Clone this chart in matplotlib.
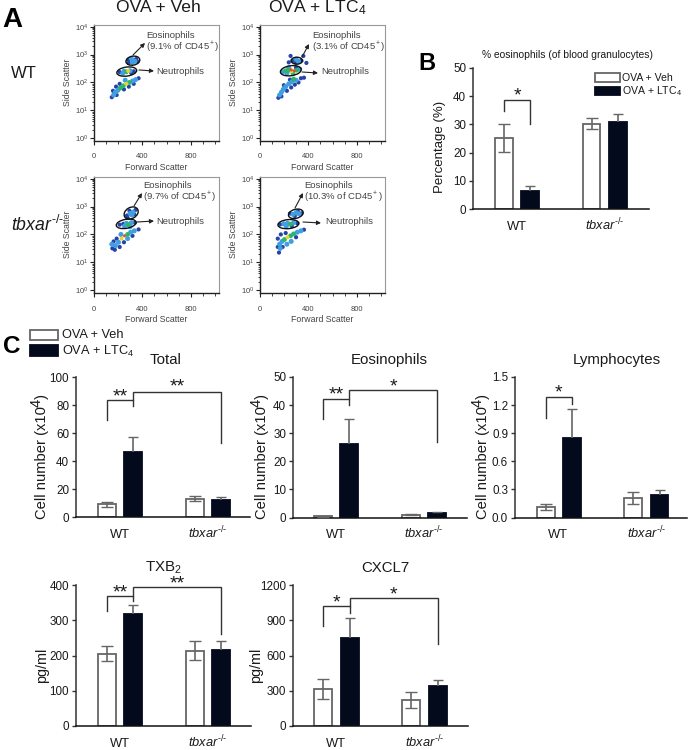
import numpy as np
import matplotlib
matplotlib.use('Agg')
import matplotlib.pyplot as plt
from matplotlib.patches import Ellipse, Rectangle
from matplotlib.transforms import ScaledTranslation

plt.rcParams['font.family'] = ['Liberation Sans', 'DejaVu Sans']
plt.rcParams['mathtext.fontset'] = 'custom'
plt.rcParams['mathtext.rm'] = 'Liberation Sans'
plt.rcParams['mathtext.it'] = 'Liberation Sans:italic'
plt.rcParams['mathtext.default'] = 'regular'

W, H = 692, 750
KO = r'$\mathit{tbxar}^{\text{-/-}}$'
LTC = 'OVA + LTC$_4$'
VEH = 'OVA + Veh'

# flow panels: forward scatter, log10 side scatter, density level
wt_veh_fsc = [285, 320, 350, 310, 340, 290, 325, 360, 215, 250, 300, 330, 270, 285, 240, 310,
              150, 165, 180, 200, 220, 245, 270, 295, 320, 345, 370, 190, 160, 215, 250, 290, 330, 260, 185]
wt_veh_ssc = [2.80, 2.72, 2.84, 2.86, 2.76, 2.70, 2.78, 2.75, 2.37, 2.40, 2.42, 2.40, 2.38, 2.41, 2.33, 2.34,
              1.47, 1.55, 1.65, 1.72, 1.80, 1.88, 1.95, 2.00, 2.05, 2.10, 2.15, 1.55, 1.70, 1.95, 1.75, 1.85, 1.95, 2.08, 1.85]
wt_veh_lvl = [0, 1, 0, 1, 1, 0, 1, 0, 0, 1, 1, 0, 2, 3, 1, 0,
              0, 1, 1, 1, 2, 2, 3, 2, 1, 1, 0, 0, 0, 0, 0, 0, 0, 1, 0]

wt_ltc_fsc = [270, 300, 320, 345, 295, 255, 360, 240, 385, 190, 215, 240, 265, 285, 260, 305, 330, 225, 275, 240, 300,
              155, 165, 180, 195, 215, 240, 265, 300, 340, 365, 180, 225, 260, 290, 200, 320, 280, 250]
wt_ltc_ssc = [2.78, 2.83, 2.75, 2.78, 2.72, 2.95, 2.95, 2.72, 2.70, 2.38, 2.42, 2.44, 2.40, 2.42, 2.45, 2.44, 2.48, 2.33, 2.32, 2.52, 2.53,
              1.45, 1.55, 1.65, 1.75, 1.85, 1.95, 2.02, 2.08, 2.15, 2.17, 1.50, 1.70, 1.82, 1.92, 1.90, 2.00, 2.12, 2.10]
wt_ltc_lvl = [0, 1, 1, 0, 0, 0, 0, 0, 0, 1, 2, 2, 3, 4, 4, 2, 1, 1, 2, 1, 0,
              0, 1, 1, 1, 1, 1, 1, 1, 0, 0, 0, 0, 0, 0, 0, 0, 2, 0]

ko_veh_fsc = [275, 300, 325, 345, 315, 295, 335, 280, 215, 245, 270, 285, 310, 340, 255, 300,
              155, 180, 205, 230, 255, 280, 305, 335, 370, 165, 190, 150, 215, 250, 280, 320, 225, 175]
ko_veh_ssc = [2.68, 2.75, 2.80, 2.88, 2.70, 2.85, 2.72, 2.60, 2.35, 2.38, 2.40, 2.35, 2.42, 2.42, 2.30, 2.28,
              1.50, 1.60, 1.72, 1.85, 1.95, 2.00, 2.08, 2.13, 2.18, 1.75, 1.85, 1.65, 1.55, 1.72, 1.85, 1.95, 2.00, 1.45]
ko_veh_lvl = [0, 1, 1, 0, 1, 0, 0, 0, 0, 0, 1, 2, 1, 0, 1, 1,
              0, 1, 1, 3, 4, 2, 1, 1, 0, 0, 0, 1, 0, 0, 1, 0, 1, 0]

ko_ltc_fsc = [250, 275, 300, 325, 345, 290, 315, 170, 200, 230, 255, 280, 310, 220, 265,
              160, 170, 165, 185, 205, 230, 255, 280, 310, 340, 365, 150, 190, 225, 260, 300, 175, 215, 150]
ko_ltc_ssc = [2.75, 2.72, 2.78, 2.74, 2.76, 2.66, 2.83, 2.36, 2.38, 2.40, 2.37, 2.42, 2.40, 2.30, 2.30,
              1.35, 1.50, 1.65, 1.75, 1.82, 1.90, 1.95, 2.02, 2.08, 2.13, 2.17, 1.85, 1.55, 1.65, 1.75, 1.90, 2.00, 2.05, 1.55]
ko_ltc_lvl = [0, 1, 1, 1, 0, 0, 0, 0, 1, 1, 2, 1, 0, 1, 0,
              0, 1, 1, 1, 2, 3, 2, 2, 1, 1, 0, 0, 0, 1, 1, 0, 0, 0, 0]

# gates: fsc, log10 ssc, width px, height px, angle
wt_veh_gates = [(323, 2.78, 14, 9, 10), (273, 2.39, 20, 9, 8)]
wt_ltc_gates = [(306, 2.78, 11, 7, 0), (257, 2.42, 21, 10, 8)]
ko_veh_gates = [(309, 2.77, 15, 11, 30), (268, 2.38, 20, 9, 10)]
ko_ltc_gates = [(298, 2.74, 15, 9, 15), (237, 2.37, 21, 9, 5)]

eos_pct = ['(9.1% of CD45$^+$)', '(3.1% of CD45$^+$)', '(9.7% of CD45$^+$)', '(10.3% of CD45$^+$)']

# bar data: mean, upper error end, lower error end (white bars only)
pct_mean = [25.3, 6.3, 30.3, 30.7]
pct_hi = [30.3, 8.0, 32.2, 33.6]
pct_lo = [20.2, 6.3, 28.3, 30.7]

total_mean = [9, 46.5, 13, 12.5]
total_hi = [10.5, 57.5, 15, 14]
total_lo = [7, 46.5, 11.5, 12.5]

eos_mean = [0.4, 26, 1, 1.7]
eos_hi = [0.5, 35.2, 1.2, 2.0]
eos_lo = [0.3, 26, 0.8, 1.7]

lym_mean = [0.11, 0.85, 0.21, 0.24]
lym_hi = [0.14, 1.16, 0.27, 0.29]
lym_lo = [0.08, 0.85, 0.14, 0.24]

txb_mean = [205, 317, 214, 217]
txb_hi = [228, 343, 240, 241]
txb_lo = [185, 317, 188, 217]

cxcl_mean = [317, 750, 220, 340]
cxcl_hi = [397, 920, 293, 392]
cxcl_lo = [230, 750, 150, 340]

bar_x = np.array([0, 1, 3.35, 4.35])
density_colors = ['#2544a8', '#3f9fe0', '#2fb56a', '#e6d52a', '#e8502a']
density_sizes = [9, 13, 12, 8, 5]

fig = plt.figure(figsize=(W / 100, H / 100), dpi=100)


def px_x(x):
    return x / W


def px_y(y):
    return 1 - y / H


def make_axes(left, top, right, bottom):
    return fig.add_axes([px_x(left), px_y(bottom), (right - left) / W, (bottom - top) / H])


def label(x, y, s, **kw):
    kw.setdefault('ha', 'left')
    kw.setdefault('va', 'center')
    kw.setdefault('color', '#1a1a1a')
    fig.text(px_x(x), px_y(y), s, **kw)


def flow_panel(left, top, fsc, ssc, lvl, gates):
    ax = make_axes(left, top, left + 125, top + 116)
    ax.set_xlim(0, 1026)
    ax.set_ylim(-0.1, 4.06)
    order = np.argsort(lvl)
    ax.scatter(np.array(fsc)[order], np.array(ssc)[order],
               s=[density_sizes[lvl[i]] for i in order],
               c=[density_colors[lvl[i]] for i in order], marker='o', linewidths=0, zorder=2)
    for gx, gy, gw, gh, ang in gates:
        tr = fig.dpi_scale_trans + ScaledTranslation(gx, gy, ax.transData)
        ax.add_patch(Ellipse((0, 0), gw / 100, gh / 100, angle=ang, transform=tr,
                             fill=False, ec='#111111', lw=1.0, zorder=3))
    for s in ['top', 'right']:
        ax.spines[s].set_color('#999999')
        ax.spines[s].set_linewidth(0.8)
    for s in ['left', 'bottom']:
        ax.spines[s].set_color('#222222')
        ax.spines[s].set_linewidth(1.0)
    ax.set_xticks([0, 400, 800])
    ax.set_xticklabels(['0', '400', '800'], fontsize=5.5, color='#444444')
    ax.set_xticks(np.arange(100, 1026, 100), minor=True)
    ax.set_yticks(range(5))
    ax.set_yticklabels(['$10^{%d}$' % i for i in range(5)], fontsize=5.5, color='#444444')
    ax.set_yticks([d + np.log10(m) for d in range(4) for m in range(2, 10)], minor=True)
    ax.tick_params(axis='both', which='major', length=3, width=0.8, color='#222222')
    ax.tick_params(axis='both', which='minor', length=1.8, width=0.6, color='#222222')
    ax.tick_params(axis='x', pad=6)
    ax.tick_params(axis='y', pad=1)
    label(left + 63, top + 142, 'Forward Scatter', ha='center', fontsize=6.3, color='#444444')
    label(left - 26, top + 57, 'Side Scatter', ha='center', rotation=90, fontsize=6.3, color='#444444')
    return ax


def flow_text(x_eos, y_eos, pct, eos_arrow, x_neu, y_neu, neu_arrow):
    label(x_eos, y_eos, 'Eosinophils', fontsize=6.8, color='#444444')
    label(x_eos, y_eos + 11, pct, fontsize=6.8, color='#444444')
    label(x_neu, y_neu, 'Neutrophils', fontsize=6.8, color='#444444')
    for (x0, y0, x1, y1) in [eos_arrow, neu_arrow]:
        fig.add_artist(matplotlib.patches.FancyArrowPatch(
            (px_x(x0), px_y(y0)), (px_x(x1), px_y(y1)), transform=fig.transFigure,
            arrowstyle='-|>', mutation_scale=6, lw=0.8, color='#222222', shrinkA=0, shrinkB=0))


def bar_panel(left, top, right, bottom, mean, hi, lo, ymax, yticks, ticklabels, left_pad, span):
    ax = make_axes(left, top, right, bottom)
    ax.set_xlim(left_pad, span)
    ax.set_ylim(0, ymax)
    ax.bar(bar_x, mean, width=0.68, color=['white', '#030a1c', 'white', '#030a1c'],
           edgecolor=['#666666', '#030a1c', '#666666', '#030a1c'], linewidth=1.3, zorder=2)
    for i in range(4):
        _, caps, bars = ax.errorbar(bar_x[i], mean[i],
                                    yerr=[[mean[i] - lo[i]], [hi[i] - mean[i]]],
                                    ecolor='#666666', elinewidth=1.2,
                                    capsize=4 if i % 2 == 0 else 3.4, capthick=1.0, zorder=3,
                                    fmt='none')
        for c in caps:
            c.set_color('#111111')
        if lo[i] == mean[i]:
            caps[0].set_visible(False)
    for s in ['top', 'right']:
        ax.spines[s].set_visible(False)
    ax.spines['left'].set_color('#333333')
    ax.spines['bottom'].set_color('#111111')
    ax.spines['left'].set_linewidth(1.1)
    ax.spines['bottom'].set_linewidth(1.1)
    ax.set_yticks(yticks)
    ax.set_yticklabels(ticklabels, fontsize=8.4, color='#1a1a1a')
    ax.set_xticks([0.48, 3.85])
    ax.set_xticklabels(['WT', KO], fontsize=9.3, color='#1a1a1a', va='baseline')
    ax.tick_params(axis='x', length=0, pad=15)
    ax.tick_params(axis='y', length=3, width=1, pad=2, color='#333333')
    return ax


def bracket(ax, a, b, top, left_end, right_end, stars, star_y):
    ax.plot([bar_x[a], bar_x[a], bar_x[b], bar_x[b]], [left_end, top, top, right_end],
            color='#333333', lw=1.0, solid_joinstyle='miter', zorder=4, clip_on=False)
    ax.text((bar_x[a] + bar_x[b]) / 2, star_y, stars, ha='center', va='center',
            fontsize=14, color='#1a1a1a', clip_on=False)


# panel A
flow_panel(93.5, 25, wt_veh_fsc, wt_veh_ssc, wt_veh_lvl, wt_veh_gates)
flow_panel(259.5, 25, wt_ltc_fsc, wt_ltc_ssc, wt_ltc_lvl, wt_ltc_gates)
flow_panel(93.5, 177, ko_veh_fsc, ko_veh_ssc, ko_veh_lvl, ko_veh_gates)
flow_panel(259.5, 177, ko_ltc_fsc, ko_ltc_ssc, ko_ltc_lvl, ko_ltc_gates)

flow_text(146, 36, eos_pct[0], (133, 55, 145, 43), 156, 72, (139, 70, 154, 71))
flow_text(312, 36, eos_pct[1], (302, 57, 309, 44), 321, 72, (302, 72, 318, 73))
flow_text(143, 186, eos_pct[2], (134, 206, 142, 193), 156, 222, (137, 222, 154, 221))
flow_text(304, 186, eos_pct[3], (295, 208, 303, 193), 325, 222, (303, 222, 321, 223))

label(158, 8, VEH, ha='center', fontsize=12.6)
label(317, 8, LTC, ha='center', fontsize=12.6)
label(11, 73, 'WT', fontsize=12)
label(11, 225, KO, fontsize=12.7)

label(2, 20, 'A', fontsize=20, fontweight='bold', color='black')
label(418, 64, 'B', fontsize=17, fontweight='bold', color='black')
label(3, 346, 'C', fontsize=17.5, fontweight='bold', color='black')

# panel B
ax_b = bar_panel(473, 68, 649, 209, pct_mean, pct_hi, pct_lo, 50, [0, 10, 20, 30, 40, 50],
                 ['0', '10', '20', '30', '40', '50'], -1.19, 5.55)
bracket(ax_b, 0, 1, 38.6, 34.6, 30, '*', 40.2)
label(567, 55, '% eosinophils (of blood granulocytes)', ha='center', fontsize=7.4)
label(440, 147, 'Percentage (%)', ha='center', rotation=90, fontsize=9.5)

# panel C
ax_total = bar_panel(76, 377, 250, 517, total_mean, total_hi, total_lo, 100, [0, 20, 40, 60, 80, 100],
                     ['0', '20', '40', '60', '80', '100'], -1.18, 5.46)
bracket(ax_total, 0, 1, 83.4, 69, 79.6, '**', 86)
bracket(ax_total, 1, 3, 89.6, 83.4, 52.6, '**', 93)

ax_eos = bar_panel(293, 377, 467, 517.5, eos_mean, eos_hi, eos_lo, 50, [0, 10, 20, 30, 40, 50],
                   ['0', '10', '20', '30', '40', '50'], -1.15, 5.5)
bracket(ax_eos, 0, 1, 42.3, 35.2, 40, '**', 43.5)
bracket(ax_eos, 1, 3, 45.5, 42.3, 27, '*', 46.5)

ax_lym = bar_panel(515, 377, 687, 517.5, lym_mean, lym_hi, lym_lo, 1.5, [0, 0.3, 0.6, 0.9, 1.2, 1.5],
                   ['0.0', '0.3', '0.6', '0.9', '1.2', '1.5'], -1.17, 5.4)
bracket(ax_lym, 0, 1, 1.287, 1.064, 1.216, '*', 1.33)

ax_txb = bar_panel(76, 585, 251, 726, txb_mean, txb_hi, txb_lo, 400, [0, 100, 200, 300, 400],
                   ['0', '100', '200', '300', '400'], -1.18, 5.5)
bracket(ax_txb, 0, 1, 369, 327, 354, '**', 378)
bracket(ax_txb, 1, 3, 393, 369, 261, '**', 402)

ax_cxcl = bar_panel(293, 585, 468, 726, cxcl_mean, cxcl_hi, cxcl_lo, 1200, [0, 300, 600, 900, 1200],
                    ['0', '300', '600', '900', '1200'], -1.15, 5.5)
bracket(ax_cxcl, 0, 1, 1018, 848, 962, '*', 1045)
bracket(ax_cxcl, 1, 3, 1092, 1018, 698, '*', 1118)

label(166, 360, 'Total', ha='center', fontsize=10.8)
label(389, 360, 'Eosinophils', ha='center', fontsize=10.8)
label(617, 360, 'Lymphocytes', ha='center', fontsize=10.8)
label(163, 568, 'TXB$_2$', ha='center', fontsize=10.8)
label(385, 568, 'CXCL7', ha='center', fontsize=10.8)

for x in [42, 262, 483]:
    label(x, 519, 'Cell number (x10', ha='center', va='bottom', rotation=90, fontsize=10.6)
    label(x - 5, 407, '4', ha='center', va='bottom', rotation=90, fontsize=10.6)
    label(x, 399, ')', ha='center', va='bottom', rotation=90, fontsize=10.6)
label(42, 665, 'pg/ml', ha='center', rotation=90, fontsize=10.4)
label(256, 665, 'pg/ml', ha='center', rotation=90, fontsize=10.4)

# legends
for (x0, x1, y0, y1, col, txt, tx, ty, fs) in [
        (595, 620, 73, 82, 'white', VEH, 622, 78, 7.6),
        (595, 620, 87, 95, '#030a1c', LTC, 622, 91, 7.6),
        (30, 58, 330, 340, 'white', VEH, 62, 335, 9.2),
        (30, 58, 345, 356, '#030a1c', LTC, 62, 351, 9.2)]:
    fig.add_artist(Rectangle((px_x(x0), px_y(y1)), (x1 - x0) / W, (y1 - y0) / H, transform=fig.transFigure,
                             fc=col, ec='#666666' if col == 'white' else col, lw=1.3))
    label(tx, ty, txt, fontsize=fs)

fig.savefig('out.png', dpi=100)
